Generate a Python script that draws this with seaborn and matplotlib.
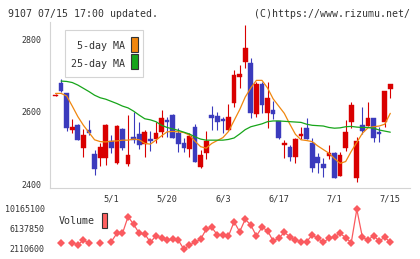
import matplotlib
matplotlib.use("Agg")
import matplotlib.pyplot as plt
from matplotlib.patches import Rectangle
import seaborn as sns
import numpy as np
import pandas as pd

# daily candles (index 0 = oldest)
opens = [2644, 2680, 2650, 2549, 2563, 2498, 2549, 2482, 2471, 2471,
         2519, 2457, 2552, 2454, 2530, 2538, 2510, 2524, 2524, 2544,
         2576, 2590, 2542, 2512, 2497, 2558, 2448, 2486, 2590, 2588,
         2578, 2549, 2624, 2696, 2736, 2733, 2593, 2676, 2597, 2604,
         2574, 2508, 2503, 2475, 2533, 2555, 2514, 2475, 2454, 2477,
         2486, 2423, 2500, 2572, 2417, 2563, 2561, 2581, 2543, 2572, 2662]
highs = [2647, 2689, 2650, 2578, 2565, 2553, 2576, 2494, 2512, 2565,
         2535, 2562, 2555, 2590, 2600, 2572, 2549, 2546, 2570, 2604,
         2586, 2592, 2554, 2526, 2540, 2566, 2494, 2546, 2616, 2598,
         2586, 2621, 2714, 2728, 2840, 2747, 2682, 2681, 2682, 2629,
         2574, 2521, 2509, 2528, 2558, 2581, 2526, 2486, 2471, 2508,
         2487, 2487, 2576, 2627, 2530, 2613, 2625, 2583, 2558, 2658, 2677]
lows = [2643, 2655, 2546, 2540, 2521, 2475, 2535, 2425, 2450, 2452,
        2485, 2455, 2495, 2450, 2512, 2497, 2475, 2491, 2512, 2530,
        2530, 2526, 2487, 2489, 2475, 2461, 2445, 2469, 2549, 2550,
        2540, 2549, 2613, 2664, 2719, 2583, 2586, 2595, 2554, 2579,
        2524, 2471, 2463, 2459, 2524, 2524, 2432, 2430, 2420, 2470,
        2416, 2423, 2491, 2555, 2406, 2537, 2561, 2517, 2517, 2558, 2638]
closes = [2646, 2657, 2554, 2558, 2521, 2535, 2540, 2441, 2503, 2563,
          2500, 2560, 2500, 2480, 2521, 2508, 2544, 2519, 2541, 2581,
          2572, 2528, 2510, 2500, 2532, 2461, 2480, 2519, 2583, 2572,
          2574, 2586, 2701, 2703, 2774, 2595, 2676, 2618, 2638, 2593,
          2528, 2514, 2475, 2524, 2537, 2524, 2445, 2457, 2443, 2486,
          2417, 2480, 2544, 2618, 2519, 2546, 2581, 2526, 2537, 2657, 2676]

ma5 = [2650, 2650, 2643, 2615, 2586, 2562, 2542, 2522, 2517, 2516,
       2518, 2519, 2521, 2521, 2524, 2522, 2512, 2510, 2521, 2533,
       2544, 2545, 2544, 2542, 2535, 2518, 2503, 2499, 2512, 2520,
       2528, 2545, 2575, 2605, 2640, 2665, 2686, 2686, 2665, 2635,
       2615, 2595, 2565, 2537, 2522, 2520, 2517, 2505, 2495, 2485,
       2470, 2457, 2462, 2490, 2515, 2540, 2555, 2558, 2560, 2565, 2595]
ma25 = [np.nan, 2684, 2683, 2680, 2673, 2664, 2655, 2645, 2638, 2634,
        2628, 2622, 2615, 2610, 2601, 2590, 2580, 2577, 2572, 2562,
        2556, 2552, 2548, 2543, 2538, 2530, 2524, 2521, 2521, 2521,
        2521, 2523, 2527, 2538, 2550, 2558, 2562, 2566, 2572, 2574,
        2574, 2573, 2572, 2571, 2570, 2565, 2562, 2561, 2560, 2556,
        2554, 2555, 2558, 2559, 2557, 2556, 2556, 2554, 2549, 2546, 2543]

volume = [np.nan, 3320000, np.nan, 3440000, 2980000, 3980000, 3320000, np.nan, 3320000, np.nan,
          3640000, 5330000, 5330000, 8680000, 7140000, 5330000, 5190000, 3520000, 4850000, 4320000,
          3980000, 4120000, 3980000, 2110000, 2980000, 3520000, 4120000, 6140000, 6540000, 4990000,
          4990000, 4790000, 7660000, 5650000, 8150000, 7000000, 4790000, 6540000, 5860000, 3780000,
          4320000, 5530000, 4650000, 3980000, 3640000, 3640000, 4990000, 4320000, 3520000, 4320000,
          4650000, 5330000, 4450000, 3440000, 10170000, 4520000, 3980000, 4850000, 3780000, 4520000, 3520000]

date_labels = ["5/1", "5/20", "6/3", "6/17", "7/1", "7/15"]
date_label_pos = [10, 20, 30, 40, 50, 60]
price_ticks = [2400, 2600, 2800]
volume_ticks = ["10165100", "6137850", "2110600"]
header_left = "9107 07/15 17:00 updated."
header_right = "(C)https://www.rizumu.net/"

UP = "#d90000"
DOWN = "#3b3bbd"
ORANGE = "#f0870f"
GREEN = "#17a51a"
VOL = "#fa5a5f"
GRID = "#d4d4d4"
TXT = "#333333"

sns.set_theme(style="white")
plt.rcParams["font.family"] = ["DejaVu Sans Mono", "DejaVu Sans"]

W, H = 420, 259
fig = plt.figure(figsize=(W / 100, H / 100), dpi=100)


def fx(px):
    return px / W


def fy(py):
    return 1 - py / H


df = pd.DataFrame({"i": np.arange(len(closes)), "open": opens, "high": highs,
                   "low": lows, "close": closes, "ma5": ma5, "ma25": ma25,
                   "volume": volume})

x0, x1 = -0.99, 63.53
ax = fig.add_axes([fx(50), fy(188), fx(360), 166 / H])
ax.set_xlim(x0, x1)
ax.set_ylim(2389, 2847)

up = df["close"] >= df["open"]
colors = np.where(up, UP, DOWN)
ax.vlines(df["i"], df["low"], df["high"], colors=colors, linewidth=0.8, zorder=2)
body = (df["close"] - df["open"]).abs().clip(lower=2.5)
ax.bar(df["i"], body, bottom=df[["open", "close"]].min(axis=1), width=0.84,
       color=colors, edgecolor=colors, linewidth=0.3, zorder=3)

sns.lineplot(data=df, x="i", y="ma5", color=ORANGE, linewidth=0.9, ax=ax, zorder=4)
sns.lineplot(data=df.dropna(subset=["ma25"]), x="i", y="ma25", color=GREEN,
             linewidth=0.9, ax=ax, zorder=4)

for s in ["top", "right"]:
    ax.spines[s].set_visible(False)
for s in ["left", "bottom"]:
    ax.spines[s].set_color(GRID)
    ax.spines[s].set_linewidth(0.8)

ax.set_yticks(price_ticks)
ax.set_yticklabels([str(p) for p in price_ticks])
ax.tick_params(axis="y", direction="inout", length=6, width=0.8, color=GRID,
               pad=3.5, labelsize=6, labelcolor=TXT)
ax.set_xticks(date_label_pos)
ax.set_xticklabels(date_labels)
ax.tick_params(axis="x", which="major", length=0, pad=4.5, labelsize=6.2, labelcolor=TXT)
step = 5.784
ax.set_xticks([x0 + step * k for k in range(1, 12)], minor=True)
ax.tick_params(axis="x", which="minor", direction="inout", length=6, width=0.8, color=GRID)
ax.set_xlabel("")
ax.set_ylabel("")
ax.grid(False)

# legend box
fig.patches.append(Rectangle((fx(65), fy(77.3)), fx(78.3), (77.3 - 30) / H,
                             transform=fig.transFigure, facecolor="white",
                             edgecolor=GRID, linewidth=0.8, zorder=5))
fig.text(fx(125), fy(46), "5-day MA", ha="right", va="center", fontsize=7.2, color=TXT, zorder=6)
fig.text(fx(125), fy(63.5), "25-day MA", ha="right", va="center", fontsize=7.2, color=TXT, zorder=6)
for yt, c in [(37.3, ORANGE), (54.3, GREEN)]:
    fig.patches.append(Rectangle((fx(131), fy(yt + 15)), fx(6.7), 15 / H,
                                 transform=fig.transFigure, facecolor=c,
                                 edgecolor="#333333", linewidth=0.8, zorder=6))

# volume panel
vax = fig.add_axes([fx(50), fy(255), fx(360), 50 / H])
vax.set_xlim(x0, x1)
vax.set_ylim(962836, 11030940)
vax.plot(df["i"], df["volume"], color=VOL, linewidth=0.9, marker="D",
         markersize=3.7, markeredgewidth=0)
vax.axis("off")
for lab, yy in zip(volume_ticks, [209, 229.3, 249.3]):
    fig.text(fx(44.5), fy(yy), lab, ha="right", va="center", fontsize=6, color=TXT)
fig.text(fx(59), fy(221.5), "Volume", ha="left", va="center", fontsize=7.2, color=TXT)
fig.patches.append(Rectangle((fx(101.7), fy(228.3)), fx(5.6), 15 / H,
                             transform=fig.transFigure, facecolor="#ff6060",
                             edgecolor="#333333", linewidth=0.8))

fig.text(fx(8), fy(14), header_left, ha="left", va="center", fontsize=7.1, color=TXT)
fig.text(fx(410), fy(14), header_right, ha="right", va="center", fontsize=7.1, color=TXT)

fig.savefig("out.png", dpi=100, facecolor="white")
